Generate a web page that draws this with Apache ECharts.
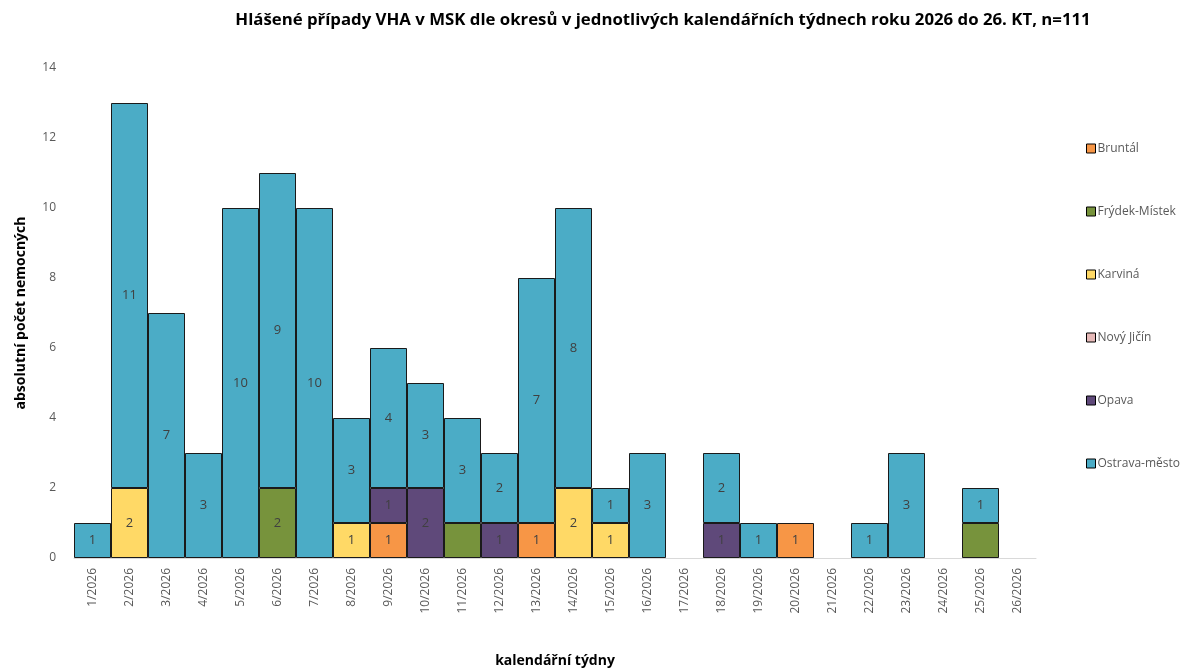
<!DOCTYPE html>
<html><head><meta charset="utf-8">
<script src="https://cdn.jsdelivr.net/npm/echarts@6/dist/echarts.min.js"></script>
<style>html,body{margin:0;padding:0;background:#fff}#c{width:1187px;height:670px}</style>
</head><body><div id="c"></div>
<script>
const weeks = ['1/2026','2/2026','3/2026','4/2026','5/2026','6/2026','7/2026','8/2026','9/2026','10/2026','11/2026','12/2026','13/2026','14/2026','15/2026','16/2026','17/2026','18/2026','19/2026','20/2026','21/2026','22/2026','23/2026','24/2026','25/2026','26/2026'];
const bruntal  = [0,0,0,0,0,0,0,0,1,0,0,0,1,0,0,0,0,0,0,1,0,0,0,0,0,0];
const frydek   = [0,0,0,0,0,2,0,0,0,0,1,0,0,0,0,0,0,0,0,0,0,0,0,0,1,0];
const karvina  = [0,2,0,0,0,0,0,1,0,0,0,0,0,2,1,0,0,0,0,0,0,0,0,0,0,0];
const novyJicin= [0,0,0,0,0,0,0,0,0,0,0,0,0,0,0,0,0,0,0,0,0,0,0,0,0,0];
const opava    = [0,0,0,0,0,0,0,0,1,2,0,1,0,0,0,0,0,1,0,0,0,0,0,0,0,0];
const ostrava  = [1,11,7,3,10,9,10,3,4,3,3,2,7,8,1,3,0,2,1,0,0,1,3,0,1,0];
const seriesNames = ['Bruntál','Frýdek-Místek','Karviná','Nový Jičín','Opava','Ostrava-město'];
const seriesData = [bruntal, frydek, karvina, novyJicin, opava, ostrava];
const colors = ['#F79646','#77933C','#FFD966','#E6B9B8','#5F497A','#4BACC6'];
const FONT = '"Open Sans", "Noto Sans", sans-serif';

const chart = echarts.init(document.getElementById('c'), null, {renderer:'canvas'});
chart.setOption({
  animation:false,
  title:{text:'Hlášené případy VHA v MSK dle okresů v jednotlivých kalendářních týdnech roku 2026 do 26. KT, n=111',
    left:658, textAlign:'center', top:7,
    textStyle:{fontFamily:FONT, fontSize:16.8, fontWeight:'bold', color:'#000'}},
  legend:{orient:'vertical', left:1081, top:136, itemWidth:9, itemHeight:9, itemGap:48,
    icon:'rect', data:seriesNames,
    itemStyle:{borderColor:'#000', borderWidth:1},
    textStyle:{fontFamily:FONT, fontSize:12, color:'#595959', lineHeight:15, padding:[0,0,0,-3]}},
  grid:{left:74, right:151, top:68, bottom:112, containLabel:false, outerBoundsMode:'none'},
  xAxis:{type:'category', data:weeks, name:'kalendářní týdny', nameLocation:'middle', nameGap:96,
    nameTextStyle:{fontFamily:FONT, fontSize:14, fontWeight:'bold', color:'#000'},
    axisLine:{lineStyle:{color:'#d9d9d9', width:1}}, axisTick:{show:false},
    axisLabel:{rotate:90, fontFamily:FONT, fontSize:12, color:'#595959', margin:10, interval:0}},
  yAxis:{type:'value', min:0, max:14, interval:2, name:'absolutní počet nemocných', nameLocation:'middle', nameGap:46,
    nameTextStyle:{fontFamily:FONT, fontSize:14, fontWeight:'bold', color:'#000'},
    axisLine:{show:false}, axisTick:{show:false}, splitLine:{show:false},
    axisLabel:{fontFamily:FONT, fontSize:12, color:'#595959', margin:18}},
  series: seriesNames.map((n,i)=>({
    name:n, type:'bar', stack:'total', barCategoryGap:'0%',
    data: seriesData[i].map(v => v === 0 ? null : v),
    itemStyle:{color:colors[i], borderColor:'#1a1a1a', borderWidth:1},
    label:{show:true, position:'inside', fontFamily:FONT, fontSize:13, color:'#404040',
      formatter: p => (i === 1 && p.value === 1) ? '' : String(p.value)}
  }))
});
</script></body></html>
